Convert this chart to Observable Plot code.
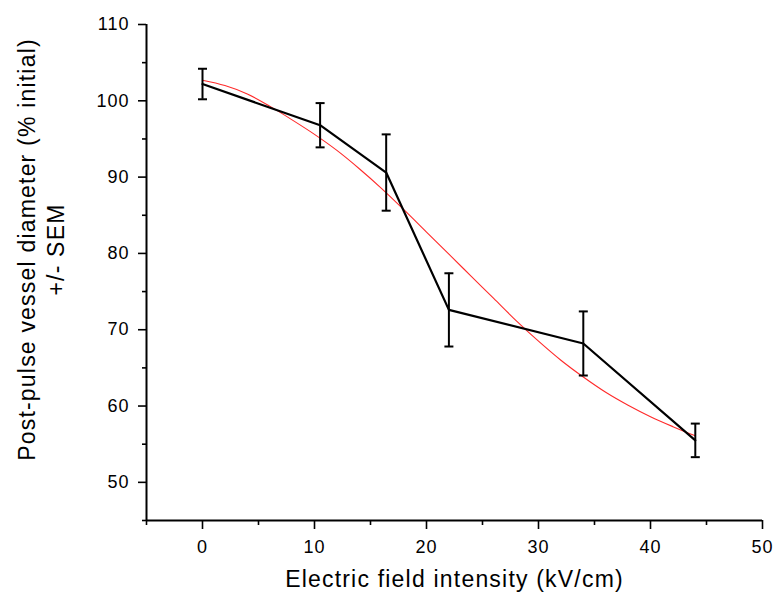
<!DOCTYPE html>
<html><head><meta charset="utf-8">
<script src="https://cdn.jsdelivr.net/npm/d3@7"></script>
<script src="https://cdn.jsdelivr.net/npm/@observablehq/plot@0.6"></script>
<style>
body{margin:0;background:#fff;}
svg{font-family:"Liberation Sans", Arial, sans-serif;}
</style>
</head><body><div id="chart"></div>
<script>
const fieldKV = [0, 10.5, 16.4, 22, 34, 44];
const diameterMean = [102.2, 96.8, 90.6, 72.6, 68.2, 55.5];
const diameterSEM = [2.0, 2.9, 5.0, 4.8, 4.2, 2.2];
// Red fitted curve
const fitX = [0, 2, 4, 6, 8, 10, 12, 14, 16, 18, 20, 22, 24, 26, 28, 30, 32, 34, 36, 38, 40, 42, 44];
const fitY = [102.7, 102.0, 100.9, 99.3, 97.5, 95.6, 93.5, 91.1, 88.5, 85.7, 82.8, 79.9, 77.0, 74.1, 71.2, 68.5, 66.0, 63.8, 61.8, 60.1, 58.6, 57.3, 56.1];
// Ticks
const xMajorTicks = [0, 10, 20, 30, 40, 50];
const xMinorTicks = [-5, 5, 15, 25, 35, 45];
const yMajorTicks = [50, 60, 70, 80, 90, 100, 110];
const yMinorTicks = [45, 55, 65, 75, 85, 95, 105];
const xTitle = "Electric field intensity (kV/cm)";
const yTitle = ["Post-pulse vessel diameter (% initial)", "+/- SEM"];

const points = fieldKV.map((x, i) => ({x, y: diameterMean[i], lo: diameterMean[i] - diameterSEM[i], hi: diameterMean[i] + diameterSEM[i]}));
const caps = points.flatMap(d => [{x: d.x, y: d.lo}, {x: d.x, y: d.hi}]);
const fit = fitX.map((x, i) => ({x, y: fitY[i]}));

const capSymbol = {draw(ctx, size) { const r = Math.sqrt(size / Math.PI); ctx.moveTo(-r, 0); ctx.lineTo(r, 0); }};

const chart = Plot.plot({
  width: 776,
  height: 599,
  marginLeft: 146,
  marginRight: 14,
  marginTop: 24,
  marginBottom: 79,
  style: {fontFamily: '"Liberation Sans", Arial, sans-serif', color: "#000", background: "#fff"},
  x: {domain: [-5, 50]},
  y: {domain: [45, 110]},
  marks: [
    Plot.axisX({ticks: xMajorTicks, tickSize: 9, tickPadding: 11, fontSize: 18, label: null, strokeWidth: 1.6}),
    Plot.axisX({ticks: xMinorTicks, tickSize: 5, text: null, label: null, strokeWidth: 1.6}),
    Plot.axisY({ticks: yMajorTicks, tickSize: 8, tickPadding: 9, fontSize: 18, label: null, strokeWidth: 1.6}),
    Plot.axisY({ticks: yMinorTicks, tickSize: 4, text: null, label: null, strokeWidth: 1.6}),
    Plot.ruleX([-5], {stroke: "#000", strokeWidth: 2}),
    Plot.ruleY([45], {stroke: "#000", strokeWidth: 2}),
    Plot.line(fit, {x: "x", y: "y", stroke: "#ff2a2a", strokeWidth: 1.1, curve: "monotone-x"}),
    Plot.line(points, {x: "x", y: "y", stroke: "#000", strokeWidth: 2.2}),
    Plot.ruleX(points, {x: "x", y1: "lo", y2: "hi", stroke: "#000", strokeWidth: 2}),
    Plot.dot(caps, {x: "x", y: "y", symbol: capSymbol, r: 4.5, stroke: "#000", strokeWidth: 2, fill: "none"}),
    Plot.text([xTitle], {frameAnchor: "bottom", dy: 59, fontSize: 23, textAnchor: "middle", lineAnchor: "middle", fill: "#000"}),
    Plot.text([yTitle.join("\n")], {frameAnchor: "left", rotate: -90, dx: -106, dy: -23, fontSize: 23, lineHeight: 1.26, textAnchor: "middle", lineAnchor: "middle", fill: "#000"})
  ]
});
d3.select(chart).selectAll('g[aria-label="text"]').style("letter-spacing", "1.2px");
d3.select(chart).selectAll('g[aria-label="x-axis tick label"], g[aria-label="y-axis tick label"]').style("letter-spacing", "1px");
document.getElementById("chart").appendChild(chart);
</script>
</body></html>
